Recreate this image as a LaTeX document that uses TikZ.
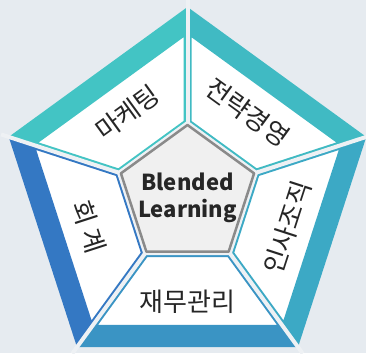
\documentclass[tikz,border=0pt]{standalone}
\usepackage{fontspec}
\setmainfont{Noto Sans CJK KR}
\usetikzlibrary{calc}

\definecolor{bgcol}{HTML}{E6EBF0}
\definecolor{gapcol}{HTML}{EEF1F4}
\definecolor{segA}{HTML}{43C4C4}
\definecolor{segB}{HTML}{40BAC3}
\definecolor{segC}{HTML}{3CA9C5}
\definecolor{segD}{HTML}{3A94C4}
\definecolor{segE}{HTML}{3478C3}
\definecolor{txtcol}{HTML}{262626}
\definecolor{corefill}{HTML}{F0F0F0}
\definecolor{coreline}{HTML}{8A8A8A}

\begin{document}
\begin{tikzpicture}[
    x=1pt, y=1pt,
    gap/.style={draw=gapcol, line width=4pt},
    seglabel/.style={font=\fontsize{26}{30}\selectfont, text=txtcol, inner sep=0pt},
    core/.style={fill=corefill, draw=coreline, line width=2.5pt, line join=round}
]
\fill[bgcol] (0,0) rectangle (366,353);
\useasboundingbox (0,0) rectangle (366,353);
\coordinate (c) at (187.5,158);

% outer segments
\foreach \a/\col in {90/segA, 18/segB, -54/segC, 234/segD, 162/segE} {
  \begin{scope}
    \clip ($(c)+(\a:188)$) -- ($(c)+({\a+72}:188)$) -- ($(c)+({\a+72}:72)$) -- ($(c)+(\a:72)$) -- cycle;
    \fill[\col] (c) circle (200);
    \filldraw[fill=white, draw=\col, line width=8pt, line join=miter]
      ($(c)+(\a:165.6)$) -- ($(c)+({\a+72}:165.6)$) -- ($(c)+({\a+72}:72)$) -- ($(c)+(\a:72)$) -- cycle;
  \end{scope}
}

% gaps between segments
\foreach \a in {90, 162, 234, 306, 18}
  \draw[gap] ($(c)+(\a:72)$) -- ($(c)+(\a:196)$);
\draw[gap, line join=miter] ($(c)+(90:72)$) -- ($(c)+(162:72)$) -- ($(c)+(234:72)$) -- ($(c)+(306:72)$) -- ($(c)+(18:72)$) -- cycle;

% core
\draw[core] ($(c)+(90:70)$) -- ($(c)+(162:70)$) -- ($(c)+(234:70)$) -- ($(c)+(306:70)$) -- ($(c)+(18:70)$) -- cycle;
\node[font=\fontsize{22}{27}\selectfont\bfseries, text=txtcol, align=center] (blended) at ($(c)+(0,-3)$) {Blended\\Learning};

% labels
\node[seglabel, rotate=36] (marketing) at ($(c)+(126:102)$) {마케팅};
\node[seglabel, rotate=-36] (strategy) at ($(c)+(54:102)$) {전략경영};
\node[seglabel, rotate=72] (hr) at ($(c)+(-18:105)$) {인사조직};
\node[seglabel] (finance) at ($(c)+(270:107)$) {재무관리};
\node[seglabel, rotate=-72] (account) at ($(c)+(198:104)$) {회 계};
\end{tikzpicture}
\end{document}
